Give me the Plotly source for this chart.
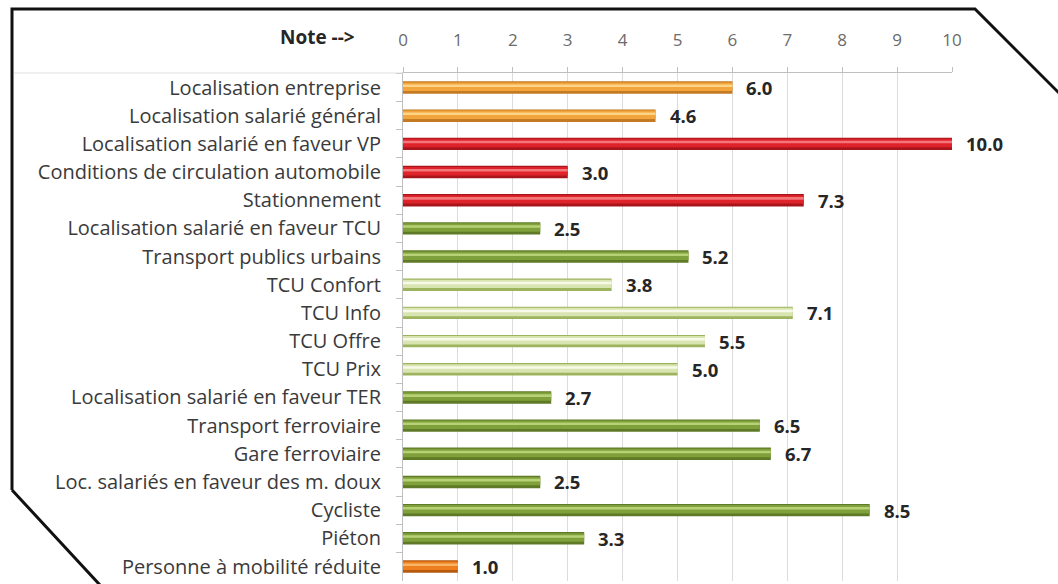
import plotly.graph_objects as go

# Critères notés de 0 à 10
categories = [
    "Localisation entreprise",
    "Localisation salarié général",
    "Localisation salarié en faveur VP",
    "Conditions de circulation automobile",
    "Stationnement",
    "Localisation salarié en faveur TCU",
    "Transport publics urbains",
    "TCU Confort",
    "TCU Info",
    "TCU Offre",
    "TCU Prix",
    "Localisation salarié en faveur TER",
    "Transport ferroviaire",
    "Gare ferroviaire",
    "Loc. salariés en faveur des m. doux",
    "Cycliste",
    "Piéton",
    "Personne à mobilité réduite",
]
notes = [6.0, 4.6, 10.0, 3.0, 7.3, 2.5, 5.2, 3.8, 7.1, 5.5, 5.0, 2.7, 6.5, 6.7, 2.5, 8.5, 3.3, 1.0]
groups = ["orange", "orange", "red", "red", "red", "green", "green", "light", "light",
          "light", "light", "green", "green", "green", "green", "green", "green", "deep"]
x_ticks = list(range(0, 11))

# (edge, body, highlight) colours per group for the cylinder look
palette = {
    "orange": ("#C47A22", "#F2A53C", "#FBD486"),
    "red": ("#A8161C", "#E0222A", "#F2777A"),
    "green": ("#5E7A26", "#7FA03A", "#B7D276"),
    "light": ("#9DB35E", "#D9E5B0", "#F7FAE8"),
    "deep": ("#B65A0E", "#EE7E1E", "#F9B566"),
}
edge = [palette[g][0] for g in groups]
body = [palette[g][1] for g in groups]
light = [palette[g][2] for g in groups]

FONT = "Open Sans"

fig = go.Figure()
fig.add_trace(go.Bar(y=categories, x=notes, orientation="h", width=0.44, offset=-0.22,
                     marker=dict(color=edge, line=dict(width=0)), hoverinfo="skip"))
fig.add_trace(go.Bar(y=categories, x=notes, orientation="h", width=0.30, offset=-0.18,
                     marker=dict(color=body, line=dict(width=0)), hoverinfo="skip"))
fig.add_trace(go.Bar(y=categories, x=notes, orientation="h", width=0.09, offset=-0.11,
                     marker=dict(color=light, line=dict(width=0)),
                     hovertemplate="%{y}: %{x:.1f}<extra></extra>"))

for cat, val in zip(categories, notes):
    fig.add_annotation(x=val, y=cat, text=f"{val:.1f}", showarrow=False,
                       xanchor="left", yanchor="middle", xshift=12,
                       font=dict(family=FONT, size=18.5, color="#262626", weight="bold"))

def px(x):
    return (x - 403) / 549

def py(y):
    return (581 - y) / 508

fig.add_annotation(xref="paper", yref="paper", x=px(357), y=py(37),
                   text="Note -->", showarrow=False, xanchor="right", yanchor="middle",
                   font=dict(family=FONT, size=19, color="#262626", weight="bold"))

# Frame with clipped corners
frame = (f"M {px(12)},{py(490)} L {px(12)},{py(9)} L {px(975)},{py(9)} L {px(1110)},{py(144)} "
         f"M {px(12)},{py(490)} L {px(112)},{py(598)}")
fig.add_shape(type="path", xref="paper", yref="paper", path=frame,
              line=dict(color="#111111", width=3))
# Separator under the header row
fig.add_shape(type="line", xref="paper", yref="paper", x0=px(14), x1=0, y0=1, y1=1,
              line=dict(color="#e0e0e0", width=1))

fig.update_layout(
    width=1058, height=584,
    margin=dict(l=403, r=106, t=73, b=3),
    paper_bgcolor="white", plot_bgcolor="white",
    barmode="overlay", showlegend=False,
    xaxis=dict(side="top", range=[0, 10], tickvals=x_ticks, ticktext=[str(t) for t in x_ticks],
               showgrid=True, gridcolor="#dcdcdc", gridwidth=1,
               showline=True, linecolor="#bfbfbf", ticks="outside", ticklen=5,
               tickcolor="#bfbfbf", ticklabelstandoff=14, zeroline=False,
               tickfont=dict(family=FONT, size=17, color="#6b6b6b")),
    yaxis=dict(categoryorder="array", categoryarray=categories, autorange="reversed",
               showline=True, linecolor="#bfbfbf", ticks="outside", ticklen=6,
               tickcolor="#bfbfbf", tickson="boundaries", showgrid=False,
               ticklabelstandoff=17,
               tickfont=dict(family=FONT, size=20, color="#3a3a3a")),
)

fig.write_html("out.html")
